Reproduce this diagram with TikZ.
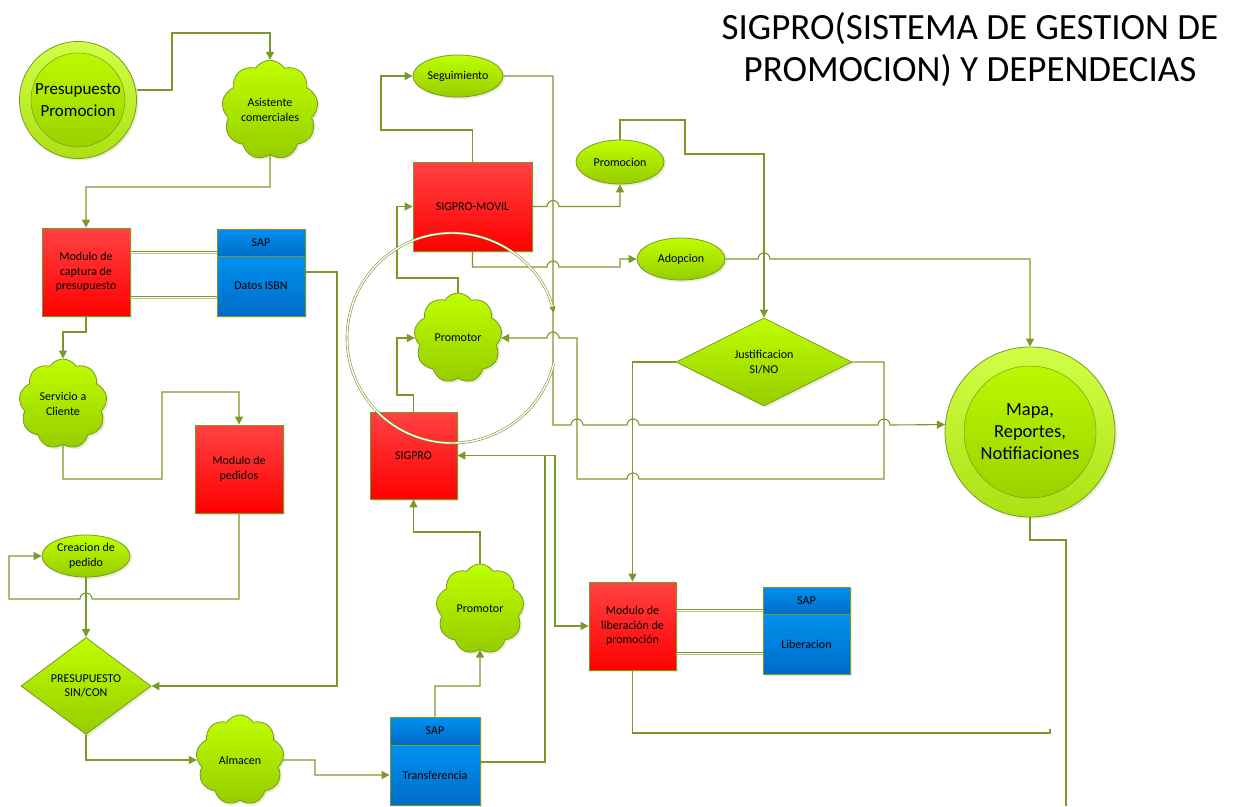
\documentclass[tikz,border=0pt]{standalone}
\usepackage{fontspec}
\setmainfont{Carlito}
\usepackage{tikz}
\usetikzlibrary{shapes.geometric}
\usetikzlibrary{shapes.symbols}
\usetikzlibrary{arrows.meta}
\usetikzlibrary{shadows}

\definecolor{linegreen}{RGB}{122,153,40}
\definecolor{limetop}{RGB}{190,255,0}
\definecolor{limebot}{RGB}{150,204,0}
\definecolor{ringtop}{RGB}{210,255,70}
\definecolor{ringbot}{RGB}{170,225,20}
\definecolor{redtop}{RGB}{255,66,66}
\definecolor{redbot}{RGB}{255,0,0}
\definecolor{bluetop}{RGB}{0,145,240}
\definecolor{bluebot}{RGB}{0,108,200}
\definecolor{shadowgreen}{RGB}{208,222,165}

\begin{document}
\begin{tikzpicture}[x=1pt,y=-1pt,
            link/.style={draw=linegreen,line width=1.1pt,-{Triangle[length=8pt,width=8pt]}},
            line/.style={draw=linegreen,line width=1.1pt},
            pairline/.style={draw=linegreen,line width=0.9pt},
            pairshade/.style={draw=linegreen!55,line width=0.9pt},
            twin/.style={draw=linegreen,line width=0.6pt,double=white,double distance=1.4pt},
            base/.style={draw=linegreen,line width=0.8pt,align=center,inner sep=1pt,
                font=\fontsize{12}{14.5}\selectfont,
                drop shadow={shadow xshift=2pt,shadow yshift=-2pt,fill=shadowgreen}},
            redbox/.style={base,rectangle,top color=redtop,bottom color=redbot,
                minimum width=88pt,minimum height=88pt},
            bluebox/.style={base,rectangle,top color=bluetop,bottom color=bluebot,
                minimum width=88pt},
            greenoval/.style={base,ellipse,top color=limetop,bottom color=limebot,
                minimum width=88pt,minimum height=42pt},
            greencloud/.style={base,cloud,cloud puffs=9,cloud puff arc=115,aspect=0.95,
                top color=limetop,bottom color=limebot,minimum width=88pt,minimum height=90pt},
            greendiamond/.style={base,diamond,top color=limetop,bottom color=limebot},
            bigcircle/.style={base,circle,top color=ringtop,bottom color=ringbot},
            ]
            \useasboundingbox (0,0) rectangle (1233,806);

            % The title
            \node[align=center,font=\fontsize{37}{42}\selectfont] (title) at (970,50)
                {SIGPRO(SISTEMA DE GESTION DE\\PROMOCION) Y DEPENDECIAS};

            % The left column
            \node[bigcircle,minimum size=117pt,
                path picture={\draw[linegreen,line width=0.5pt,top color=limetop,bottom color=limebot]
                (path picture bounding box.center) circle (47pt);
                \node[align=center,font=\fontsize{17}{22}\selectfont] at (path picture bounding box.center) {Presupuesto\\Promocion};}]
                (presup) at (78,100) {};
            \node[greencloud] (asist) at (270,110) {Asistente\\comerciales};
            \node[redbox] (capt) at (86,272) {Modulo de\\captura de\\presupuesto};
            \node[bluebox,minimum height=27pt] (sapa) at (261,242.5) {SAP};
            \node[bluebox,minimum height=60pt] (isbn) at (261,286) {Datos ISBN};
            \node[greencloud] (serv) at (63,404) {Servicio a\\Cliente};
            \node[redbox] (pedidos) at (239,469) {Modulo de\\pedidos};
            \node[greenoval] (crea) at (86,556) {Creacion de\\pedido};
            \node[greendiamond,minimum width=130pt,minimum height=90pt] (presdec) at (86,686)
                {PRESUPUESTO\\SIN/CON};
            \node[greencloud] (almacen) at (240,760) {Almacen};
            \node[bluebox,minimum width=90pt,minimum height=28pt] (sapb) at (435,731) {SAP};
            \node[bluebox,minimum width=90pt,minimum height=60pt] (trans) at (435,775) {Transferencia};

            % The middle column
            \node[greenoval,minimum width=90pt] (seg) at (458,76) {Seguimiento};
            \node[redbox,minimum width=119pt,minimum height=89pt] (sigmovil) at (472.5,206.5) {SIGPRO-MOVIL};
            \node[greencloud] (promone) at (458,338) {Promotor};
            \node[redbox,minimum width=87pt,minimum height=87pt] (sigpro) at (413.5,455.5) {SIGPRO};
            \node[greencloud] (promtwo) at (480,609) {Promotor};
            \node[greenoval,minimum height=44pt] (promo) at (620,162) {Promocion};
            \node[greenoval] (adop) at (681,259) {Adopcion};

            % The right column
            \node[greendiamond,minimum width=176pt,minimum height=88pt] (just) at (764,362)
                {Justificacion\\SI/NO};
            \node[redbox,minimum width=87pt] (lib) at (632.5,626) {Modulo de\\liberación de\\promoción};
            \node[bluebox,minimum width=87pt,minimum height=27pt] (sapc) at (806.5,600.5) {SAP};
            \node[bluebox,minimum width=87pt,minimum height=60pt] (libr) at (806.5,644) {Liberacion};
            \node[bigcircle,minimum size=170pt,
                path picture={\draw[linegreen,line width=0.5pt,top color=limetop,bottom color=limebot]
                (path picture bounding box.center) circle (66pt);
                \node[align=center,font=\fontsize{18.5}{22}\selectfont] at (path picture bounding box.center) {Mapa,\\Reportes,\\Notifiaciones};}]
                (mapa) at (1030,432) {};
            \coordinate (libend) at (1050,729);
            \coordinate (mapend) at (1066,806);

            % The connectors, left
            \draw[link] ([yshift=10pt]presup.east) -- (172,90) -- (172,33) -- (270,33) -- (asist.north);
            \draw[link] (asist.south) -- (270,187) -- (86,187) -- (capt.north);
            \draw[pairline] ([yshift=21pt]capt.east) -- ([yshift=-8.5pt]sapa.west);
            \draw[pairshade] ([yshift=18.5pt]capt.east) -- ([yshift=-11pt]sapa.west);
            \draw[pairline] ([yshift=-24pt]capt.east) -- ([yshift=-10pt]isbn.west);
            \draw[pairshade] ([yshift=-26.5pt]capt.east) -- ([yshift=-12.5pt]isbn.west);
            \draw[link] ([yshift=14pt]isbn.east) -- (337,272) |- (presdec.east);
            \draw[link] (capt.south) -- (86,332) -- (63,332) -- (serv.north);
            \draw[link] (serv.south) -- (63,479) -- (162,479) -- (162,392) -- (239,392) -- (pedidos.north);
            \draw[link] (pedidos.south) -- (239,599) -- (92,599) arc (0:-180:6) -- (9,599) -- (9,556) -- (crea.west);
            \draw[link] (crea.south) -- (presdec.north);
            \draw[link] (presdec.south) |- (almacen.west);
            \draw[link] (almacen.east) -- (315,760) |- (trans.west);
            \draw[link] (sapb.north) -- (435,686) -- (480,686) -- (promtwo.south);
            \draw[link] ([yshift=13pt]trans.east) -- (545,762) |- (sigpro.east);
            \draw[link] (sigpro.east) -- (555,455.5) |- (lib.west);

            % The connectors, middle
            \draw[link] (promtwo.north) -- (480,532) -- (413.5,532) -- (sigpro.south);
            \draw[link] (sigpro.north) -- (413.5,395) -- (397,395) |- (promone.west);
            \draw[link] (promone.north) -- (458,278) -- (397,278) |- (sigmovil.west);
            \draw[link] (sigmovil.north) -- (472.5,130) -- (381,130) |- (seg.west);
            \draw[link] (seg.east) -- (553,76) -- (553,425) -- (571,425) arc (180:360:6)
                -- (627,425) arc (180:360:6) -- (878,425) arc (180:360:6) -- (mapa.175);
            \draw[link] (sigmovil.east) -- (547,206.5) arc (180:360:6) -- (620,206.5) -- (promo.south);
            \draw[link] (sigmovil.south) -- (472.5,267) -- (547,267) arc (180:360:6) -- (620,267) |- (adop.west);

            % The connectors, right
            \draw[link] (promo.north) -- (620,120) -- (685,120) -- (685,154) -- (764,154) -- (just.north);
            \draw[link] (adop.east) -- (758,259) arc (180:360:6) -- (1030,259) -- (mapa.north);
            \draw[link] (just.west) -- (632.5,362) -- (lib.north);
            \draw[link] (just.east) -- (884,362) -- (884,479) -- (639,479) arc (0:-180:6)
                -- (577,479) -- (577,338) -- (559,338) arc (0:-180:6) -- (promone.east);
            \draw[pairline] ([yshift=17pt]lib.east) -- ([yshift=-8.5pt]sapc.west);
            \draw[pairshade] ([yshift=14.5pt]lib.east) -- ([yshift=-11pt]sapc.west);
            \draw[pairline] ([yshift=-26pt]lib.east) -- ([yshift=-8pt]libr.west);
            \draw[pairshade] ([yshift=-28.5pt]lib.east) -- ([yshift=-10.5pt]libr.west);
            \draw[line] (lib.south) -- (632.5,733) -- (1050,733) -- (libend);
            \draw[line] (mapa.south) -- (1030,540) -- (1066,540) -- (mapend);

            % The ring
            \draw[twin,-{Triangle[length=6pt,width=6pt]}] (452,338) ++(14:105) arc (14:346:105);
        \end{tikzpicture}
\end{document}
